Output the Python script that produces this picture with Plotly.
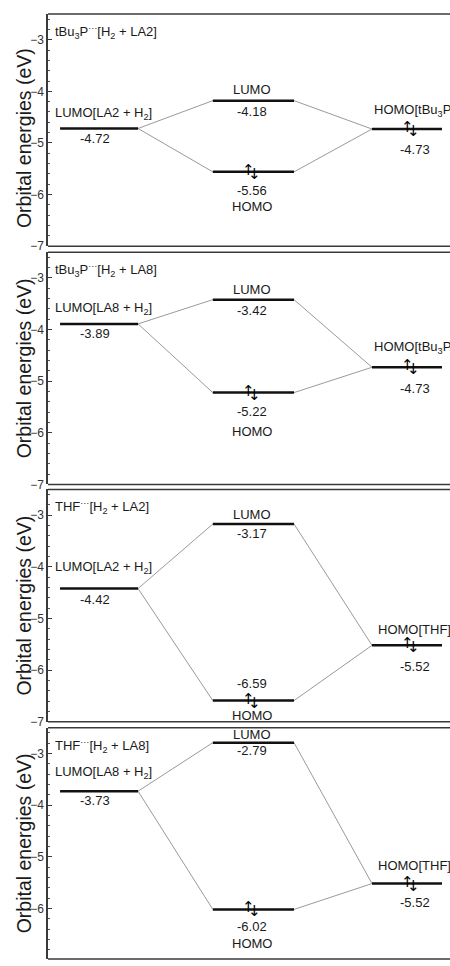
import plotly.graph_objects as go

# ---------------- data ----------------
titles = ["tBu<sub>3</sub>P<sup>···</sup>[H<sub>2</sub> + LA2]",
          "tBu<sub>3</sub>P<sup>···</sup>[H<sub>2</sub> + LA8]",
          "THF<sup>···</sup>[H<sub>2</sub> + LA2]",
          "THF<sup>···</sup>[H<sub>2</sub> + LA8]"]
left_labels = ["LUMO[LA2 + H<sub>2</sub>]", "LUMO[LA8 + H<sub>2</sub>]",
               "LUMO[LA2 + H<sub>2</sub>]", "LUMO[LA8 + H<sub>2</sub>]"]
right_labels = ["HOMO[tBu<sub>3</sub>P]", "HOMO[tBu<sub>3</sub>P]", "HOMO[THF]", "HOMO[THF]"]
lumo_acid = [-4.72, -3.89, -4.42, -3.73]      # LUMO of Lewis acid + H2
complex_lumo = [-4.18, -3.42, -3.17, -2.79]   # LUMO of complex
complex_homo = [-5.56, -5.22, -6.59, -6.02]   # HOMO of complex
homo_base = [-4.73, -4.73, -5.52, -5.52]      # HOMO of Lewis base
y_ticks = [-7, -6, -5, -4, -3]
y_title = "Orbital energies (eV)"

# ---------------- layout/style ----------------
W, H = 450, 966
ML, MR = 48, 8
PX_PER_EV = 52.0
col1 = (0.30, 2.24)
col2 = (4.10, 6.12)
col3 = (8.06, 10.8)
col1_txt = 1.17
col2_txt = 5.08
col3_txt = 9.12
col2_arrow = 5.05
col3_arrow = 9.02

# pixel offsets of text relative to level lines, per panel
offs = [
    dict(l_lab=15, l_val=-10, c_lab=11, c_val=-11, h_val=-19, h_lab=-35, r_lab=19, r_val=-20),
    dict(l_lab=15, l_val=-10, c_lab=10, c_val=-11, h_val=-19, h_lab=-39, r_lab=20, r_val=-21),
    dict(l_lab=21, l_val=-11, c_lab=10, c_val=-9, h_val=17, h_lab=-15, r_lab=16, r_val=-21),
    dict(l_lab=19, l_val=-9, c_lab=8, c_val=-8, h_val=-17, h_lab=-34, r_lab=18, r_val=-19),
]
title_shift = [-8, 0, 0, 0]

panel_px = [(14, 248), (254, 488), (493, 727), (733, H)]
FONT = "Liberation Sans, Arial, Helvetica, sans-serif"
ARROW_FONT = "DejaVu Sans, sans-serif"
TXT = "#1a1a1a"
AX = "#3a3a3a"
PLOT_W = W - ML - MR
X_EXT = (W - ML) / PLOT_W      # paper x reaching the right edge of the page

fig = go.Figure()
annotations = []
shapes = []
layout = dict(
    width=W, height=H,
    margin=dict(l=ML, r=MR, t=0, b=0),
    paper_bgcolor="white", plot_bgcolor="white",
    showlegend=False,
    font=dict(family=FONT, color=TXT, size=13),
)

for i in range(4):
    xa = "x" if i == 0 else f"x{i+1}"
    ya = "y" if i == 0 else f"y{i+1}"
    xkey = "xaxis" if i == 0 else f"xaxis{i+1}"
    ykey = "yaxis" if i == 0 else f"yaxis{i+1}"
    top, bot = panel_px[i]
    dom = [max(0, 1 - bot / H), 1 - top / H]
    y_range = [-2.5 - (bot - top) / PX_PER_EV, -2.5]
    layout[xkey] = dict(range=[0, 10 * PLOT_W / (W - ML)], anchor=ya,
                        showticklabels=False, ticks="",
                        showgrid=False, zeroline=False, showline=False, fixedrange=True)
    layout[ykey] = dict(domain=dom, range=y_range, anchor=xa, tickvals=y_ticks,
                        ticks="inside", ticklen=4, tickwidth=1, tickcolor=AX,
                        minor=dict(dtick=0.2, ticks="inside", ticklen=2.5, tickcolor="#555", tickwidth=1),
                        showgrid=False, zeroline=False, showline=True, linecolor=AX,
                        linewidth=1.5, tickfont=dict(size=12, color="#333"),
                        fixedrange=True)
    # top and bottom borders of the panel, running off the right edge
    for yy in (0, 1):
        shapes.append(dict(type="line", xref="paper", yref=f"{ya} domain",
                           x0=0, x1=X_EXT + 0.01, y0=yy, y1=yy, line=dict(color=AX, width=1.5)))
    # y-axis title
    annotations.append(dict(x=(24 - ML) / PLOT_W, y=0.5, xref="paper", yref=f"{ya} domain",
                            text=y_title, textangle=-90, showarrow=False,
                            xanchor="center", yanchor="middle", yshift=title_shift[i],
                            font=dict(size=19.5, color=TXT, family=FONT)))

    a, cl, ch, b = lumo_acid[i], complex_lumo[i], complex_homo[i], homo_base[i]
    # connectors
    for (xs, ys) in [((col1[1], col2[0]), (a, cl)), ((col1[1], col2[0]), (a, ch)),
                     ((col2[1], col3[0]), (cl, b)), ((col2[1], col3[0]), (ch, b))]:
        fig.add_trace(go.Scatter(x=list(xs), y=list(ys), mode="lines", xaxis=xa, yaxis=ya,
                                 line=dict(color="#9a9a9a", width=1), hoverinfo="skip"))
    # levels
    for (xs, v) in [(col1, a), (col2, cl), (col2, ch), (col3, b)]:
        fig.add_trace(go.Scatter(x=list(xs), y=[v, v], mode="lines", xaxis=xa, yaxis=ya,
                                 line=dict(color="#111", width=2.5), hoverinfo="skip",
                                 cliponaxis=False))

    o = offs[i]
    def ann(x, y, text, ys=0, xs=0, xanchor="center", size=13, family=FONT, color=TXT):
        annotations.append(dict(x=x, y=y, xref=xa, yref=ya, text=text, showarrow=False,
                                xanchor=xanchor, yanchor="middle", yshift=ys, xshift=xs,
                                font=dict(size=size, color=color, family=family)))
    # title
    annotations.append(dict(x=0.012, y=1, xref=f"{xa} domain", yref=f"{ya} domain",
                            text=titles[i], showarrow=False, xanchor="left", yanchor="top",
                            yshift=-7, font=dict(size=13, color=TXT, family=FONT)))
    # column 1
    ann(0.12, a, left_labels[i], ys=o["l_lab"], xanchor="left")
    ann(col1_txt, a, f"{a:.2f}", ys=o["l_val"])
    # column 2 LUMO
    ann(col2_txt, cl, "LUMO", ys=o["c_lab"])
    ann(col2_txt, cl, f"{cl:.2f}", ys=o["c_val"])
    # column 2 HOMO (electron pair arrows)
    ann(col2_arrow, ch, "↑", xs=-3, ys=2, size=15, family=ARROW_FONT, color="#000")
    ann(col2_arrow, ch, "↓", xs=3, ys=-2, size=15, family=ARROW_FONT, color="#000")
    ann(col2_txt, ch, f"{ch:.2f}", ys=o["h_val"])
    ann(col2_txt, ch, "HOMO", ys=o["h_lab"])
    # column 3
    ann(col3_txt, b, right_labels[i], ys=o["r_lab"])
    ann(col3_arrow, b, "↑", xs=-3, ys=2, size=15, family=ARROW_FONT, color="#000")
    ann(col3_arrow, b, "↓", xs=3, ys=-2, size=15, family=ARROW_FONT, color="#000")
    ann(col3_txt, b, f"{b:.2f}", ys=o["r_val"])

layout["annotations"] = annotations
layout["shapes"] = shapes
fig.update_layout(**layout)
fig.write_html("out.html")
